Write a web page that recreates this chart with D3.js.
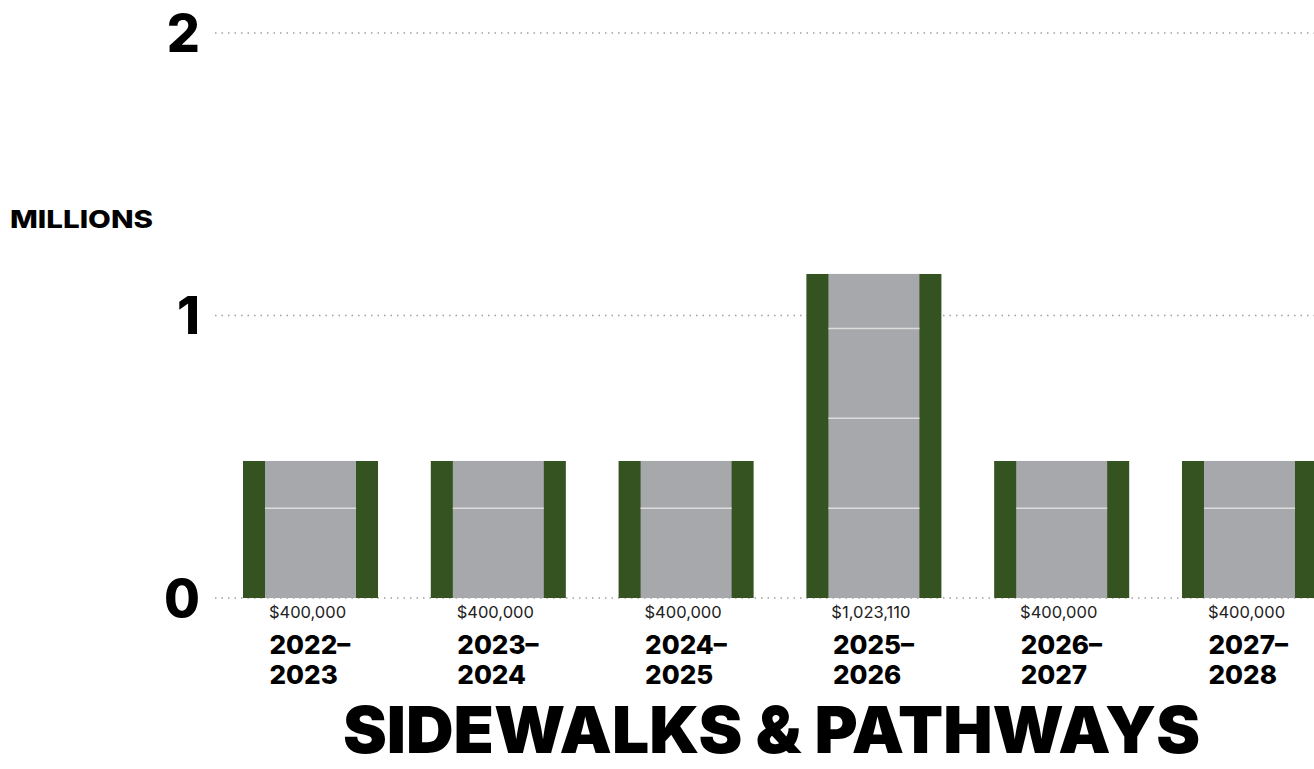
<!DOCTYPE html>
<html>
<head>
<meta charset="utf-8">
<script src="https://cdn.jsdelivr.net/npm/d3@7"></script>
<style>
  body { margin: 0; background: #fff; }
  text { font-family: Inter, "DejaVu Sans", sans-serif; }
</style>
</head>
<body>
<div id="chart"></div>
<script>
// Data
const years = ['2022-2023', '2023-2024', '2024-2025', '2025-2026', '2026-2027', '2027-2028'];
const amounts = [400000, 400000, 400000, 1023110, 400000, 400000];
// bar heights as drawn in the picture (millions)
const barHeights = [0.485, 0.485, 0.485, 1.147, 0.485, 0.485];
const yTicks = [0, 1, 2];
const stripeStep = 0.318; // spacing of lane marks, millions

const width = 1314,
  height = 769;

const svg = d3
  .select('#chart')
  .append('svg')
  .attr('width', width)
  .attr('height', height);

const y = d3.scaleLinear().domain([0, 2]).range([598, 33]);

// last bar runs off the right edge, as in the original
const x = d3
  .scaleBand()
  .domain(years)
  .range([243, 1317])
  .paddingInner(0.281)
  .paddingOuter(0);

// gridlines
svg
  .append('g')
  .selectAll('line')
  .data(yTicks)
  .join('line')
  .attr('x1', 215)
  .attr('x2', width)
  .attr('y1', d => y(d))
  .attr('y2', d => y(d))
  .attr('stroke', '#a0a0a0')
  .attr('stroke-width', 1.3)
  .attr('stroke-dasharray', '1.5,5');

// tick labels
svg
  .append('g')
  .selectAll('text')
  .data(yTicks)
  .join('text')
  .attr('x', 200)
  .attr('y', d => y(d))
  .attr('dy', '0.36em')
  .attr('text-anchor', 'end')
  .attr('font-size', 52)
  .attr('font-weight', 800)
  .attr('fill', '#000')
  .text(d => d);

svg
  .append('text')
  .attr('x', 10)
  .attr('y', 228)
  .attr('font-size', 25)
  .attr('font-weight', 800)
  .attr('textLength', 143)
  .attr('lengthAdjust', 'spacingAndGlyphs')
  .text('MILLIONS');

// bars
const edge = 22;
const bars = svg
  .append('g')
  .selectAll('g')
  .data(years.map((d, i) => ({ year: d, amount: amounts[i], h: barHeights[i] })))
  .join('g');

bars
  .append('rect')
  .attr('x', d => x(d.year))
  .attr('y', d => y(d.h))
  .attr('width', x.bandwidth())
  .attr('height', d => y(0) - y(d.h))
  .attr('fill', '#355221');

bars
  .append('rect')
  .attr('x', d => x(d.year) + edge)
  .attr('y', d => y(d.h))
  .attr('width', x.bandwidth() - 2 * edge)
  .attr('height', d => y(0) - y(d.h))
  .attr('fill', '#a7a8ab');

// lane marks
bars.each(function(d) {
  const marks = d3.range(stripeStep, d.h - 0.05, stripeStep);
  d3.select(this)
    .selectAll('.mark')
    .data(marks)
    .join('line')
    .attr('class', 'mark')
    .attr('x1', x(d.year) + edge)
    .attr('x2', x(d.year) + x.bandwidth() - edge)
    .attr('y1', m => y(m))
    .attr('y2', m => y(m))
    .attr('stroke', '#dcdcdc')
    .attr('stroke-width', 1.5);
});

// value labels
bars
  .append('text')
  .attr('x', d => x(d.year) + x.bandwidth() / 2 - 3)
  .attr('y', 618)
  .attr('text-anchor', 'middle')
  .attr('font-size', 16.5)
  .attr('fill', '#222')
  .text(d => d3.format('$,')(d.amount));

// year labels
const yearText = bars
  .append('text')
  .attr('font-size', 26)
  .attr('font-weight', 800)
  .attr('fill', '#000');

yearText
  .append('tspan')
  .attr('x', d => x(d.year) + x.bandwidth() / 2 - 41)
  .attr('y', 654)
  .text(d => d.year.split('-')[0] + '–');

yearText
  .append('tspan')
  .attr('x', d => x(d.year) + x.bandwidth() / 2 - 41)
  .attr('y', 684)
  .text(d => d.year.split('-')[1]);

// title
svg
  .append('text')
  .attr('x', 343)
  .attr('y', 753)
  .attr('font-size', 64)
  .attr('font-weight', 900)
  .attr('textLength', 857)
  .attr('lengthAdjust', 'spacingAndGlyphs')
  .text('SIDEWALKS & PATHWAYS');
</script>
</body>
</html>
